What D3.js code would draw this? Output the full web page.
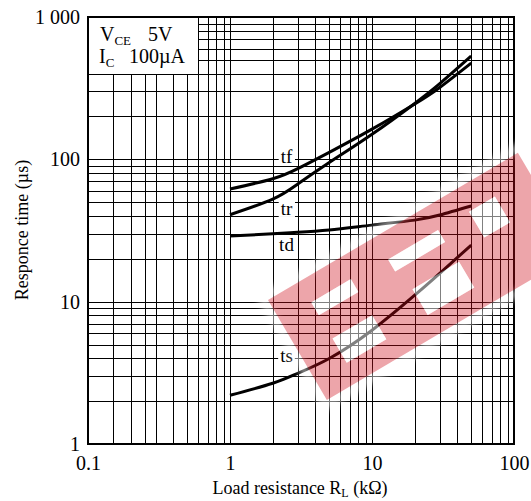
<!DOCTYPE html>
<html>
<head>
<meta charset="utf-8">
<script src="https://cdn.jsdelivr.net/npm/d3@7"></script>
<style>
  body { margin: 0; background: #fff; }
  svg text { font-family: "Liberation Serif", "Times New Roman", serif; fill: #000; }
</style>
</head>
<body>
<div id="chart"></div>
<script>
// load resistance (kOhm) where the curves were read
const loadRes = [1, 2, 3, 5, 10, 20, 30, 50]
// response times (us)
const tfTime = [61.8, 73, 86, 112, 163, 245, 320, 475]
const trTime = [40.8, 52.5, 67, 95, 150, 247, 340, 532]
const tdTime = [28.9, 30, 30.7, 31.9, 34.5, 37.4, 40.6, 47]
const tsTime = [2.2, 2.67, 3.14, 3.99, 6.3, 11.1, 15.8, 25]

const curveNames = ["tf", "tr", "td", "ts"]
const labelX = [2.5, 2.5, 2.5, 2.5]
const labelY = [104, 45, 25, 4.2]

const xTicks = [0.1, 1, 10, 100]
const xTickLabels = ["0.1", "1", "10", "100"]
const yTicks = [1, 10, 100, 1000]
const yTickLabels = ["1", "10", "100", "1 000"]

const xGrid = [0.15, 0.2, 0.25, 0.3, 0.4, 0.5, 0.6, 0.7, 0.8, 0.9, 1,
               2, 3, 4, 5, 6, 7, 8, 9, 10, 20, 30, 40, 50, 60, 70, 80, 90]
const yGrid = [2, 3, 4, 5, 6, 7, 8, 9, 10, 20, 30, 40, 50, 60, 70, 80, 90, 100,
               200, 300, 400, 500, 600, 700, 800, 900]

function drawChart() {
    const W = 531, H = 501
    const margin = {top: 17, left: 88}
    const width = 426, height = 427

    const svg = d3.select("#chart")
      .append("svg")
        .attr("width", W)
        .attr("height", H)
    const g = svg.append("g")
        .attr("transform", "translate(" + margin.left + "," + margin.top + ")")

    const x = d3.scaleLog().domain([0.1, 100]).range([0, width])
    const y = d3.scaleLog().domain([1, 1000]).range([height, 0])
    const px = v => Math.round(x(v)) + 0.5
    const py = v => Math.round(y(v)) + 0.5

    // grid
    g.append("g").selectAll("line").data(xGrid).join("line")
        .attr("x1", px).attr("x2", px)
        .attr("y1", 0).attr("y2", height)
        .attr("stroke", "#000").attr("stroke-width", 1)
    g.append("g").selectAll("line").data(yGrid).join("line")
        .attr("y1", py).attr("y2", py)
        .attr("x1", 0).attr("x2", width)
        .attr("stroke", "#000").attr("stroke-width", 1)

    // legend box blanks out the grid in the corner
    g.append("rect")
        .attr("x", 0).attr("y", 0)
        .attr("width", px(0.6))
        .attr("height", py(400))
        .attr("fill", "#fff")
    g.append("line")
        .attr("x1", px(0.6)).attr("x2", px(0.6)).attr("y1", 0).attr("y2", py(400))
        .attr("stroke", "#000")
    g.append("line")
        .attr("x1", 0).attr("x2", px(0.6)).attr("y1", py(400)).attr("y2", py(400))
        .attr("stroke", "#000")

    const leg1 = g.append("text").attr("x", 12).attr("y", 24).attr("font-size", 20)
    leg1.append("tspan").text("V")
    leg1.append("tspan").attr("font-size", 13).attr("dy", 4).text("CE")
    leg1.append("tspan").attr("dy", -4).attr("x", 60).text("5V")
    const leg2 = g.append("text").attr("x", 11).attr("y", 46).attr("font-size", 20)
    leg2.append("tspan").text("I")
    leg2.append("tspan").attr("font-size", 13).attr("dy", 4).text("C")
    leg2.append("tspan").attr("dy", -4).attr("x", 41).text("100µA")

    // curves
    const series = [tfTime, trTime, tdTime, tsTime]
    const line = d3.line()
        .x((d, i) => x(loadRes[i]))
        .y(d => y(d))
        .curve(d3.curveNatural)
    g.append("g").selectAll("path").data(series).join("path")
        .attr("fill", "none")
        .attr("stroke", "#000")
        .attr("stroke-width", 3)
        .attr("d", line)

    // curve labels
    curveNames.forEach(function(name, i) {
        const t = g.append("text")
            .attr("x", x(labelX[i]))
            .attr("y", y(labelY[i]))
            .attr("dy", "0.33em")
            .attr("text-anchor", "middle")
            .attr("font-size", 19)
            .text(name)
        const bb = t.node().getBBox()
        g.insert("rect", function() { return t.node() })
            .attr("x", bb.x - 2).attr("y", bb.y + 3)
            .attr("width", bb.width + 4).attr("height", bb.height - 5)
            .attr("fill", "#fff")
    })

    // watermark
    const defs = svg.append("defs")
    defs.append("filter").attr("id", "soft")
        .attr("x", "-20%").attr("y", "-40%").attr("width", "140%").attr("height", "180%")
      .append("feGaussianBlur").attr("stdDeviation", 3)
    const wm = svg.append("g")
        .attr("transform", "translate(268,300) rotate(-30.5)")
    const Lw = 290, Lh = 116
    const holes = [[36, 24, 46, 15], [36, 66, 46, 28], [124, 26, 58, 14], [130, 64, 54, 30], [218, 26, 30, 30]]
    const rectPath = (a, b, w, h) => "M" + a + "," + b + "h" + w + "v" + h + "h" + (-w) + "Z"
    wm.append("path")
        .attr("d", rectPath(-9, -9, Lw + 18, Lh + 18) + rectPath(0, 0, Lw, Lh))
        .attr("fill-rule", "evenodd")
        .attr("fill", "#fff")
        .attr("opacity", 0.55)
        .attr("filter", "url(#soft)")
    wm.append("path")
        .attr("d", rectPath(0, 0, Lw, Lh) + holes.map(h => rectPath(h[0], h[1], h[2], h[3])).join(""))
        .attr("fill-rule", "evenodd")
        .attr("fill", "rgb(205,10,25)")
        .attr("opacity", 0.37)
    wm.append("path")
        .attr("d", holes.map(h => rectPath(h[0], h[1], h[2], h[3])).join(""))
        .attr("fill", "#fff")
        .attr("opacity", 0.5)

    // frame
    g.append("rect")
        .attr("x", 0).attr("y", 0)
        .attr("width", width).attr("height", height)
        .attr("fill", "none")
        .attr("stroke", "#000")
        .attr("stroke-width", 2)

    // axes
    const xAxis = g.append("g")
        .attr("transform", "translate(0," + height + ")")
        .call(d3.axisBottom(x).tickValues(xTicks).tickFormat((d, i) => xTickLabels[i]).tickSize(0).tickPadding(12))
    xAxis.select(".domain").remove()
    xAxis.selectAll("text").attr("font-size", 20).attr("font-family", null)

    const yAxis = g.append("g")
        .call(d3.axisLeft(y).tickValues(yTicks).tickFormat((d, i) => yTickLabels[i]).tickSize(0).tickPadding(8))
    yAxis.select(".domain").remove()
    yAxis.selectAll("text").attr("font-size", 20).attr("font-family", null)

    svg.append("text")
        .attr("x", 300).attr("y", 494)
        .attr("text-anchor", "middle")
        .attr("font-size", 18)
        .call(t => {
            t.append("tspan").text("Load resistance R")
            t.append("tspan").attr("font-size", 12).attr("dy", 3).text("L")
            t.append("tspan").attr("dy", -3).text(" (kΩ)")
        })

    svg.append("text")
        .attr("transform", "translate(28,230) rotate(-90)")
        .attr("text-anchor", "middle")
        .attr("font-size", 18)
        .text("Responce time (µs)")
}
drawChart()
</script>
</body>
</html>
